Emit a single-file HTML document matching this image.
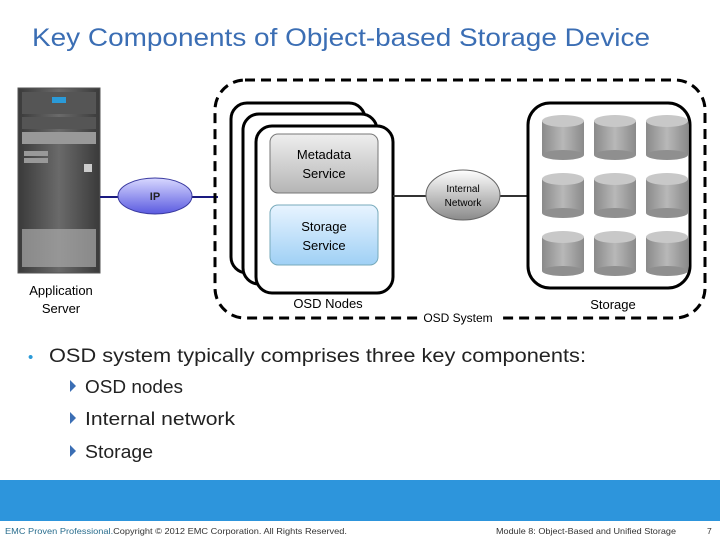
<!DOCTYPE html>
<html><head><meta charset="utf-8"><style>
body{margin:0;width:720px;height:540px;background:#fff;overflow:hidden;font-family:"Liberation Sans",sans-serif}
</style></head><body>
<svg width="720" height="540" xmlns="http://www.w3.org/2000/svg" font-family="Liberation Sans, sans-serif">
<defs>
<linearGradient id="srv" x1="0" x2="1"><stop offset="0" stop-color="#3a3a3a"/><stop offset=".5" stop-color="#6a6a6a"/><stop offset="1" stop-color="#3a3a3a"/></linearGradient>
<linearGradient id="meta" x1="0" y1="0" x2="0" y2="1"><stop offset="0" stop-color="#eeeeee"/><stop offset="1" stop-color="#b5b5b5"/></linearGradient>
<linearGradient id="stor" x1="0" y1="0" x2="0" y2="1"><stop offset="0" stop-color="#e8f4ff"/><stop offset="1" stop-color="#9fd0f5"/></linearGradient>
<linearGradient id="cyl" x1="0" x2="1"><stop offset="0" stop-color="#8a8a8a"/><stop offset=".5" stop-color="#b8b8b8"/><stop offset="1" stop-color="#8a8a8a"/></linearGradient>
<linearGradient id="ipc" x1="0" y1="0" x2="0" y2="1"><stop offset="0" stop-color="#d8d8ff"/><stop offset="1" stop-color="#5a5ae0"/></linearGradient>
<linearGradient id="inc" x1="0" y1="0" x2="0" y2="1"><stop offset="0" stop-color="#ffffff"/><stop offset="1" stop-color="#8a8a8a"/></linearGradient>
<g id="cy"><rect x="-21" y="6" width="42" height="34" fill="url(#cyl)"/><ellipse cx="0" cy="40" rx="21" ry="5" fill="#8f8f8f"/><ellipse cx="0" cy="6" rx="21" ry="6" fill="#c8c8c8"/></g>
</defs>
<text x="32" y="46" font-size="25" fill="#3b6eb4" textLength="618" lengthAdjust="spacingAndGlyphs">Key Components of Object-based Storage Device</text>
<!-- server -->
<rect x="18" y="88" width="82" height="185" fill="url(#srv)" stroke="#555"/>
<rect x="22" y="92" width="74" height="22" fill="#555"/>
<rect x="52" y="97" width="14" height="6" fill="#2a9ad8"/>
<rect x="22" y="117" width="74" height="12" fill="#555"/>
<rect x="22" y="132" width="74" height="12" fill="#999"/>
<rect x="24" y="151" width="24" height="5" fill="#999"/><rect x="24" y="158" width="24" height="5" fill="#999"/>
<rect x="84" y="164" width="8" height="8" fill="#ccc"/>
<rect x="22" y="229" width="74" height="38" fill="#aaa" opacity=".7"/>
<!-- IP -->
<line x1="100" y1="197" x2="218" y2="197" stroke="#1a1a80" stroke-width="2"/>
<ellipse cx="155" cy="196" rx="37" ry="18" fill="url(#ipc)" stroke="#3a3aa0"/>
<text x="155" y="200" font-size="11" text-anchor="middle" font-weight="bold" fill="#222">IP</text>
<!-- outer dashed -->
<rect x="215" y="80" width="490" height="238" rx="30" fill="none" stroke="#000" stroke-width="3" stroke-dasharray="10,6"/>
<rect x="420" y="308" width="80" height="16" fill="#fff"/>
<text x="458" y="322" font-size="12" text-anchor="middle">OSD System</text>
<!-- node stack -->
<rect x="231" y="103" width="134" height="170" rx="16" fill="#fff" stroke="#000" stroke-width="3"/>
<rect x="243" y="114" width="134" height="170" rx="16" fill="#fff" stroke="#000" stroke-width="3"/>
<rect x="256" y="126" width="137" height="167" rx="16" fill="#fff" stroke="#000" stroke-width="3"/>
<rect x="270" y="134" width="108" height="59" rx="8" fill="url(#meta)" stroke="#777"/>
<text x="324" y="159" font-size="13" text-anchor="middle">Metadata</text>
<text x="324" y="178" font-size="13" text-anchor="middle">Service</text>
<rect x="270" y="205" width="108" height="60" rx="8" fill="url(#stor)" stroke="#7ab"/>
<text x="324" y="231" font-size="13" text-anchor="middle">Storage</text>
<text x="324" y="250" font-size="13" text-anchor="middle">Service</text>
<text x="328" y="308" font-size="13" text-anchor="middle">OSD Nodes</text>
<!-- internal net -->
<line x1="393" y1="196" x2="527" y2="196" stroke="#333" stroke-width="2"/>
<ellipse cx="463" cy="195" rx="37" ry="25" fill="url(#inc)" stroke="#666"/>
<text x="463" y="192" font-size="10" text-anchor="middle">Internal</text>
<text x="463" y="206" font-size="10" text-anchor="middle">Network</text>
<!-- storage -->
<rect x="528" y="103" width="162" height="185" rx="22" fill="#fff" stroke="#000" stroke-width="3"/>
<use href="#cy" x="563" y="115"/><use href="#cy" x="615" y="115"/><use href="#cy" x="667" y="115"/>
<use href="#cy" x="563" y="173"/><use href="#cy" x="615" y="173"/><use href="#cy" x="667" y="173"/>
<use href="#cy" x="563" y="231"/><use href="#cy" x="615" y="231"/><use href="#cy" x="667" y="231"/>
<text x="613" y="309" font-size="13" text-anchor="middle">Storage</text>
<text x="61" y="295" font-size="13" text-anchor="middle">Application</text>
<text x="61" y="313" font-size="13" text-anchor="middle">Server</text>
<!-- bullets -->
<text x="28" y="362" font-size="15" fill="#2a9ad8">•</text>
<text x="49" y="362" font-size="19" fill="#222" textLength="537" lengthAdjust="spacingAndGlyphs">OSD system typically comprises three key components:</text>
<polygon points="70,380 70,392 76,386" fill="#3b6eb4"/>
<text x="85" y="393" font-size="18" fill="#222" textLength="98" lengthAdjust="spacingAndGlyphs">OSD nodes</text>
<polygon points="70,412 70,424 76,418" fill="#3b6eb4"/>
<text x="85" y="425" font-size="18" fill="#222" textLength="150" lengthAdjust="spacingAndGlyphs">Internal network</text>
<polygon points="70,445 70,457 76,451" fill="#3b6eb4"/>
<text x="85" y="458" font-size="18" fill="#222" textLength="68" lengthAdjust="spacingAndGlyphs">Storage</text>
<!-- footer -->
<rect x="0" y="480" width="720" height="41" fill="#2d95dc"/>
<text x="5" y="534" font-size="8.5" fill="#2a6e8e" textLength="342" lengthAdjust="spacingAndGlyphs">EMC Proven Professional.<tspan fill="#333">Copyright © 2012 EMC Corporation. All Rights Reserved.</tspan></text>
<text x="496" y="534" font-size="8.5" fill="#333" textLength="180" lengthAdjust="spacingAndGlyphs">Module 8: Object-Based and Unified Storage</text>
<text x="707" y="534" font-size="8.5" fill="#333">7</text>
</svg>
</body></html>
